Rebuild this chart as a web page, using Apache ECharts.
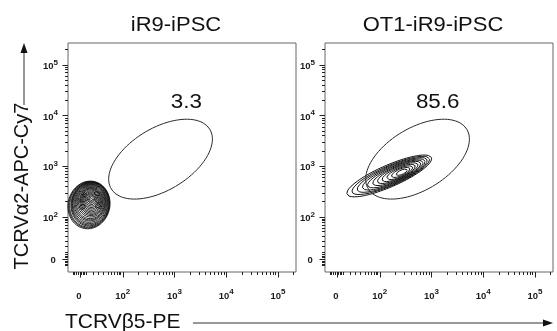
<!DOCTYPE html>
<html>
<head>
<meta charset="utf-8">
<script src="https://cdn.jsdelivr.net/npm/echarts@6/dist/echarts.min.js"></script>
<style>
html, body { margin: 0; padding: 0; background: #fff; }
#chart { width: 557px; height: 331px; }
</style>
</head>
<body>
<div id="chart"></div>
<script>
// panel titles + gate frequency (%)
var panelTitles = ["iR9-iPSC", "OT1-iR9-iPSC"];
var gatePercents = ["3.3", "85.6"];
// where the % label sits, in axis units
var gateLabelPos = [[3.23, 4.25], [3.12, 4.25]];

// biexponential display units: 10^k -> k, zero at zeroPos
var zeroPos = 1.17;
var decades = [2, 3, 4, 5];
var xRange = [0.94, 5.35];
var yRange = [0.915, 5.43];
// ticks of the linear part around 0 and of the compressed 10..100 part
var nearZeroTicks = [1.04, 1.07, 1.10, 1.13, 1.17, 1.20, 1.23, 1.26, 1.30];
var lowDecadeTicks = [1.43, 1.53, 1.62, 1.71, 1.78, 1.84, 1.89, 1.93, 1.96];

// gate ellipse: [cx, cy, semi-major, semi-minor, angle deg]
var gate = [2.73, 3.14, 1.12, 0.61, 32];

// contour levels: [cx, cy, rx, ry, angle deg]
var contoursLeft = [
  [1.346, 2.237, 0.404, 0.473, -12],
  [1.350, 2.242, 0.392, 0.460, -11],
  [1.355, 2.247, 0.380, 0.448, -11],
  [1.365, 2.256, 0.365, 0.434, -10],
  [1.365, 2.262, 0.352, 0.420, -9],
  [1.365, 2.270, 0.340, 0.404, -8],
  [1.365, 2.278, 0.325, 0.385, -7],
  [1.368, 2.286, 0.308, 0.365, -6],
  [1.372, 2.292, 0.292, 0.350, -5],
  [1.375, 2.298, 0.276, 0.332, -3],
  [1.378, 2.306, 0.258, 0.308, 0],
  [1.380, 2.312, 0.240, 0.286, 3],
  [1.385, 2.316, 0.221, 0.266, 5],
  [1.385, 2.322, 0.204, 0.248, 7],
  [1.385, 2.327, 0.186, 0.228, 8],
  [1.385, 2.333, 0.168, 0.205, 10],
  [1.385, 2.336, 0.150, 0.180, 12],
  [1.385, 2.340, 0.132, 0.156, 12],
  [1.385, 2.345, 0.112, 0.132, 15],
  [1.385, 2.350, 0.092, 0.108, 15],
  [1.385, 2.355, 0.072, 0.084, 15],
  [1.385, 2.355, 0.052, 0.062, 15],
  [1.385, 2.355, 0.032, 0.038, 0],
  // small loops inside the blob
  [1.22, 2.20, 0.060, 0.045, 20],
  [1.50, 2.46, 0.055, 0.040, -20],
  [1.26, 2.44, 0.045, 0.040, 0],
  [1.52, 2.22, 0.050, 0.045, 10]
];
var contoursRight = [
  [2.183, 2.809, 0.893, 0.214, 24],
  [2.212, 2.819, 0.816, 0.194, 24],
  [2.240, 2.828, 0.738, 0.179, 24],
  [2.269, 2.838, 0.660, 0.163, 24],
  [2.298, 2.848, 0.583, 0.148, 24],
  [2.327, 2.858, 0.505, 0.132, 24],
  [2.346, 2.864, 0.427, 0.117, 24],
  [2.365, 2.868, 0.350, 0.101, 24],
  [2.385, 2.872, 0.272, 0.085, 24],
  [2.404, 2.878, 0.194, 0.066, 24],
  [2.423, 2.882, 0.117, 0.043, 24]
];

function ellipse(p) {
  var pts = [];
  var th = p[4] * Math.PI / 180;
  for (var i = 0; i <= 90; i++) {
    var t = 2 * Math.PI * i / 90;
    var ex = p[2] * Math.cos(t), ey = p[3] * Math.sin(t);
    pts.push([p[0] + ex * Math.cos(th) - ey * Math.sin(th),
              p[1] + ex * Math.sin(th) + ey * Math.cos(th)]);
  }
  return pts;
}

// log minor ticks inside the decades
var minorTicks = nearZeroTicks.concat(lowDecadeTicks);
for (var k = 2; k <= 5; k++) {
  for (var m = 2; m <= 9; m++) {
    var v = k + Math.log10(m);
    if (v < 5.4) minorTicks.push(v);
  }
}
var majorTicks = [zeroPos].concat(decades);

var richLab = {
  b: { fontSize: 9.5, fontWeight: "bold", color: "#1a1a1a", fontFamily: "Liberation Sans", verticalAlign: "bottom" },
  s: { fontSize: 8, fontWeight: "bold", color: "#1a1a1a", fontFamily: "Liberation Sans", padding: [0, 0, 5, 0], verticalAlign: "bottom" }
};
function fmt(v) {
  if (Math.abs(v - zeroPos) < 0.01) return "{b|0}{s| }";
  return "{b|10}{s|" + Math.round(v) + "}";
}

var grids = [], xAxes = [], yAxes = [], series = [];
var lefts = [68, 325];
for (var g = 0; g < 2; g++) {
  grids.push({ left: lefts[g], top: 43, width: 228, height: 229, show: true,
    borderColor: "#666", borderWidth: 1, backgroundColor: "transparent" });
  // minor ticks + labels
  xAxes.push({ gridIndex: g, type: "value", min: xRange[0], max: xRange[1], position: "bottom",
    axisLine: { show: false }, splitLine: { show: false },
    axisTick: { show: true, customValues: minorTicks, length: 3, lineStyle: { color: "#222" } },
    axisLabel: { show: true, customValues: majorTicks, formatter: fmt, margin: 16, rich: richLab } });
  // major ticks
  xAxes.push({ gridIndex: g, type: "value", min: xRange[0], max: xRange[1], position: "bottom",
    axisLine: { show: false }, splitLine: { show: false },
    axisTick: { show: true, customValues: majorTicks, length: 5.5, lineStyle: { color: "#222" } },
    axisLabel: { show: false } });
  yAxes.push({ gridIndex: g, type: "value", min: yRange[0], max: yRange[1], position: "left",
    axisLine: { show: false }, splitLine: { show: false },
    axisTick: { show: true, customValues: minorTicks, length: 3, lineStyle: { color: "#222" } },
    axisLabel: { show: true, customValues: majorTicks, formatter: fmt, margin: 10, rich: richLab } });
  yAxes.push({ gridIndex: g, type: "value", min: yRange[0], max: yRange[1], position: "left",
    axisLine: { show: false }, splitLine: { show: false },
    axisTick: { show: true, customValues: majorTicks, length: 5.5, lineStyle: { color: "#222" } },
    axisLabel: { show: false } });

  var cs = g === 0 ? contoursLeft : contoursRight;
  for (var c = 0; c < cs.length; c++) {
    series.push({ type: "line", xAxisIndex: g * 2, yAxisIndex: g * 2, data: ellipse(cs[c]),
      symbol: "none", smooth: false, silent: true,
      lineStyle: { color: "#111", width: g === 0 ? 0.9 : 1 } });
  }
  series.push({ type: "line", xAxisIndex: g * 2, yAxisIndex: g * 2, data: ellipse(gate),
    symbol: "none", silent: true, lineStyle: { color: "#2a2a2a", width: 1 } });
  // gate frequency label
  series.push({ type: "custom", xAxisIndex: g * 2, yAxisIndex: g * 2, silent: true,
    data: [[gateLabelPos[g][0], gateLabelPos[g][1], g]],
    renderItem: function (params, api) {
      var p = api.coord([api.value(0), api.value(1)]);
      return { type: "text", x: p[0], y: p[1], scaleX: 1.12,
        style: { text: gatePercents[api.value(2)], font: '20px "Liberation Sans"',
          fill: "#111", align: "center", verticalAlign: "middle",
          textAlign: "center", textVerticalAlign: "middle" } };
    } });
}

var chart = echarts.init(document.getElementById("chart"));
chart.setOption({
  animation: false,
  grid: grids,
  xAxis: xAxes,
  yAxis: yAxes,
  series: series,
  graphic: [
    { type: "text", x: 176, y: 25, scaleX: 1.1,
      style: { text: panelTitles[0], font: '20px "Liberation Sans"', fill: "#111",
        align: "center", verticalAlign: "middle", textAlign: "center", textVerticalAlign: "middle" } },
    { type: "text", x: 433, y: 25, scaleX: 1.1,
      style: { text: panelTitles[1], font: '20px "Liberation Sans"', fill: "#111",
        align: "center", verticalAlign: "middle", textAlign: "center", textVerticalAlign: "middle" } },
    { type: "text", x: 22, y: 186, rotation: Math.PI / 2,
      style: { text: "TCRVα2-APC-Cy7", font: '20px "Liberation Sans"', fill: "#111",
        align: "center", verticalAlign: "middle", textAlign: "center", textVerticalAlign: "middle" } },
    { type: "text", x: 65, y: 322,
      style: { text: "TCRVβ5-PE", font: '21px "Liberation Sans"', fill: "#111",
        align: "left", verticalAlign: "middle", textAlign: "left", textVerticalAlign: "middle" } },
    // axis arrows
    { type: "line", shape: { x1: 193, y1: 323, x2: 545, y2: 323 }, style: { stroke: "#333", lineWidth: 1 } },
    { type: "polygon", shape: { points: [[543, 319.5], [553, 323], [543, 326.5]] }, style: { fill: "#111" } },
    { type: "line", shape: { x1: 24, y1: 105, x2: 24, y2: 51 }, style: { stroke: "#333", lineWidth: 1 } },
    { type: "polygon", shape: { points: [[20.5, 53], [24, 43], [27.5, 53]] }, style: { fill: "#111" } }
  ]
});
</script>
</body>
</html>
